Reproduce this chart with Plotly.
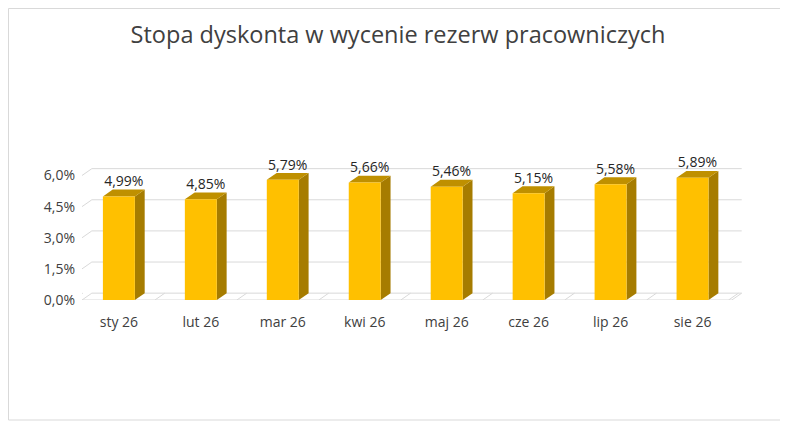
import plotly.graph_objects as go

months = ["sty 26", "lut 26", "mar 26", "kwi 26", "maj 26", "cze 26", "lip 26", "sie 26"]
rates = [4.99, 4.85, 5.79, 5.66, 5.46, 5.15, 5.58, 5.89]
labels = ["4,99%", "4,85%", "5,79%", "5,66%", "5,46%", "5,15%", "5,58%", "5,89%"]
tick_vals = [0, 1.5, 3.0, 4.5, 6.0]
tick_text = ["0,0%", "1,5%", "3,0%", "4,5%", "6,0%"]

W = 0.39   # bar front width (category units)
DX = 0.12  # depth offset x
DY = 0.33  # depth offset y
FRONT, SIDE, TOP = "#FFC000", "#A67C00", "#BF9000"
X0, X1 = -0.45, 7.6

fig = go.Figure()
for v in tick_vals:
    fig.add_trace(go.Scatter(x=[X0, X0 + DX, X1], y=[v, v + DY, v + DY], mode="lines",
                             line=dict(color="#D9D9D9", width=1), hoverinfo="skip", showlegend=False))
fig.add_trace(go.Scatter(x=[X0, X1 - DX, X1], y=[0, 0, DY], mode="lines",
                         line=dict(color="#D9D9D9", width=1), hoverinfo="skip", showlegend=False))
for i in range(len(months) + 1):
    xb = i - 0.5
    fig.add_trace(go.Scatter(x=[xb - DX / 2, xb + DX / 2], y=[0, DY], mode="lines",
                             line=dict(color="#D9D9D9", width=1), hoverinfo="skip", showlegend=False))

for i, v in enumerate(rates):
    l, r = i - W / 2, i + W / 2
    fig.add_trace(go.Scatter(x=[r, r + DX, r + DX, r, r], y=[0, DY, v + DY, v, 0], fill="toself",
                             fillcolor=SIDE, line=dict(width=0), mode="lines", hoverinfo="skip", showlegend=False))
    fig.add_trace(go.Scatter(x=[l, r, r + DX, l + DX, l], y=[v, v, v + DY, v + DY, v], fill="toself",
                             fillcolor=TOP, line=dict(width=0), mode="lines", hoverinfo="skip", showlegend=False))
    fig.add_trace(go.Scatter(x=[l, r, r, l, l], y=[0, 0, v, v, 0], fill="toself",
                             fillcolor=FRONT, line=dict(width=0), mode="lines", hoverinfo="skip", showlegend=False))

fig.add_trace(go.Scatter(x=[i + DX / 2 for i in range(len(rates))], y=[v + DY for v in rates],
                         mode="text", text=labels, textposition="top center",
                         textfont=dict(size=14, color="#262626"), showlegend=False))

fig.update_layout(
    width=780, height=415, paper_bgcolor="white", plot_bgcolor="white",
    margin=dict(l=74, r=34, t=126, b=123),
    font=dict(family="Open Sans, sans-serif", color="#404040"),
    title=dict(text="Stopa dyskonta w wycenie rezerw pracowniczych", x=0.5, xanchor="center",
               y=0.935, yanchor="middle", font=dict(size=23.5, color="#404040")),
    xaxis=dict(range=[X0, 7.75], tickvals=list(range(len(months))), ticktext=months,
               showgrid=False, zeroline=False, showline=False, tickfont=dict(size=14, color="#404040"),
               ticklabelstandoff=12, fixedrange=True),
    yaxis=dict(range=[0, 8.0], tickvals=tick_vals, ticktext=tick_text, showgrid=False,
               zeroline=False, showline=False, tickfont=dict(size=14, color="#404040"),
               ticklabelstandoff=6, fixedrange=True),
    shapes=[dict(type="rect", xref="paper", yref="paper", x0=(0.5 - 74) / 672, x1=(776 - 74) / 672,
                 y0=(292 - 412) / 166, y1=291.5 / 166, line=dict(color="#D9D9D9", width=1))],
)
fig.write_html("out.html")
